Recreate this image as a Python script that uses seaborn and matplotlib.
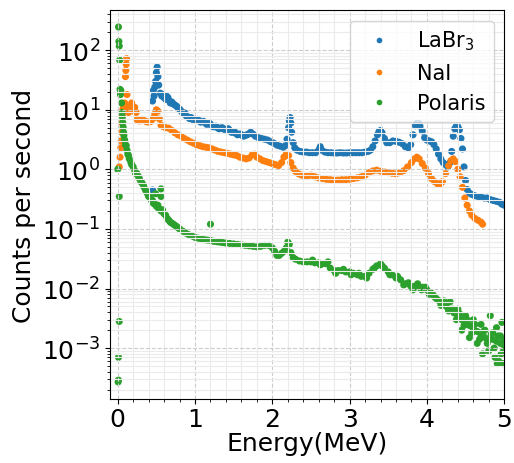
import numpy as np
import pandas as pd
import matplotlib
matplotlib.use("Agg")
import matplotlib.pyplot as plt
from matplotlib.ticker import MultipleLocator
import seaborn as sns

# Espectros (energia en MeV, cuentas por segundo)
labr_energy = [0.45, 0.46, 0.47, 0.48, 0.49, 0.50, 0.51, 0.52, 0.53, 0.55,
               0.57, 0.60, 0.63, 0.66, 0.70, 0.74, 0.78, 0.81, 0.85, 0.89,
               0.93, 0.97, 1.01, 1.05, 1.09, 1.13, 1.17, 1.21, 1.25, 1.29,
               1.33, 1.37, 1.41, 1.45, 1.49, 1.53, 1.57, 1.61, 1.65, 1.69,
               1.72, 1.75, 1.78, 1.82, 1.86, 1.90, 1.94, 1.98, 2.02, 2.06,
               2.10, 2.14, 2.17, 2.19, 2.21, 2.22, 2.23, 2.24, 2.25, 2.27,
               2.29, 2.32, 2.36, 2.40, 2.44, 2.48, 2.52, 2.56, 2.60, 2.62,
               2.64, 2.68, 2.72, 2.76, 2.80, 2.84, 2.88, 2.92, 2.96, 3.00,
               3.04, 3.08, 3.12, 3.16, 3.20, 3.24, 3.27, 3.30, 3.33, 3.36,
               3.38, 3.40, 3.42, 3.45, 3.48, 3.52, 3.56, 3.60, 3.64, 3.68,
               3.72, 3.76, 3.79, 3.82, 3.85, 3.87, 3.89, 3.91, 3.94, 3.97,
               4.00, 4.03, 4.06, 4.09, 4.12, 4.15, 4.18, 4.21, 4.24, 4.27,
               4.30, 4.32, 4.34, 4.36, 4.38, 4.40, 4.42, 4.44, 4.46, 4.48,
               4.50, 4.52, 4.55, 4.58, 4.62, 4.66, 4.70, 4.74, 4.78, 4.82,
               4.86, 4.90, 4.94, 4.97, 5.00, 0.45,
               0.58, 0.62, 0.65, 0.68, 0.72, 0.76, 0.80, 0.83, 0.87, 0.91,
               0.95, 0.99, 1.03, 1.07, 1.11, 1.15, 1.19, 1.23, 1.27, 1.31,
               1.35, 1.39, 1.43, 1.47, 1.51, 1.55, 1.59, 1.63, 1.67, 1.71]
labr_cps = [14, 21, 17, 24, 30, 42, 52, 36, 26, 19,
            17, 16, 17, 14.5, 13.5, 12, 10.8, 9.8, 8.6, 7.8,
            7.1, 6.9, 6.7, 6.6, 6.3, 6.1, 5.8, 5.5, 5.2, 5.0,
            4.9, 4.8, 4.7, 4.5, 4.2, 4.0, 3.9, 3.7, 3.7, 3.9,
            4.2, 3.9, 3.6, 3.4, 3.3, 3.2, 3.1, 2.9, 2.75, 2.55,
            2.45, 2.35, 2.5, 3.2, 5.0, 6.5, 7.4, 6.0, 4.2, 2.8,
            2.3, 2.1, 2.0, 1.95, 1.95, 1.9, 1.9, 1.9, 2.1, 2.4,
            2.1, 1.95, 1.9, 1.9, 1.88, 1.88, 1.9, 1.88, 1.88, 1.9,
            1.9, 1.9, 1.9, 1.9, 1.95, 2.0, 2.1, 2.4, 3.0, 3.8,
            4.3, 4.5, 4.1, 3.3, 2.8, 2.8, 3.0, 2.95, 2.85, 2.7,
            2.4, 2.3, 2.6, 3.8, 5.4, 6.0, 6.1, 5.3, 4.4, 3.4,
            3.1, 3.0, 2.9, 2.6, 2.2, 1.8, 1.5, 1.3, 1.2, 1.1,
            1.3, 2.0, 3.6, 4.8, 5.3, 5.2, 4.6, 3.3, 2.2, 1.1,
            0.65, 0.46, 0.40, 0.38, 0.36, 0.35, 0.34, 0.33, 0.33, 0.31,
            0.30, 0.29, 0.28, 0.26, 0.25, 0.45,
            18, 15, 16, 13, 12.5, 11.5, 10.2, 9.2, 8.8, 7.5,
            7.4, 6.6, 6.9, 6.2, 6.4, 5.7, 5.9, 5.2, 5.3, 4.8,
            5.0, 4.6, 4.8, 4.2, 4.3, 3.8, 3.9, 3.6, 3.8, 4.0]

nai_energy = [0.02, 0.03, 0.04, 0.045, 0.05, 0.055, 0.06, 0.065, 0.07, 0.08,
              0.09, 0.10, 0.105, 0.11, 0.115, 0.12, 0.13, 0.14, 0.16, 0.18,
              0.20, 0.22, 0.24, 0.25, 0.28, 0.31, 0.34, 0.37, 0.40, 0.43,
              0.46, 0.48, 0.50, 0.52, 0.54, 0.56, 0.59, 0.62, 0.66, 0.70,
              0.74, 0.78, 0.82, 0.86, 0.90, 0.94, 0.98, 1.02, 1.06, 1.10,
              1.14, 1.18, 1.22, 1.26, 1.30, 1.34, 1.38, 1.42, 1.46, 1.50,
              1.54, 1.58, 1.62, 1.66, 1.70, 1.74, 1.77, 1.80, 1.84, 1.88,
              1.92, 1.96, 2.00, 2.04, 2.08, 2.12, 2.15, 2.18, 2.21, 2.24,
              2.27, 2.30, 2.34, 2.38, 2.42, 2.46, 2.50, 2.55, 2.60, 2.65,
              2.70, 2.75, 2.80, 2.85, 2.90, 2.95, 3.00, 3.05, 3.10, 3.15,
              3.20, 3.25, 3.30, 3.35, 3.40, 3.45, 3.50, 3.55, 3.60, 3.65,
              3.70, 3.75, 3.80, 3.84, 3.87, 3.90, 3.94, 3.98, 4.02, 4.06,
              4.10, 4.14, 4.17, 4.20, 4.24, 4.28, 4.31, 4.34, 4.37, 4.40,
              4.43, 4.46, 4.49, 4.52, 4.55, 4.58, 4.62, 4.66, 4.70, 4.72]
nai_cps = [1.1, 1.6, 2.3, 3.0, 4.2, 6.0, 8.0, 10, 12, 9.5,
           13, 36, 46, 58, 72, 18, 11, 9, 10, 13,
           9.5, 11, 9, 6.8, 6.5, 6.9, 6.6, 6.3, 6.2, 6.4,
           7.2, 8.5, 10, 9.5, 7.0, 5.5, 5.2, 5.0, 4.9, 4.5,
           4.1, 3.8, 3.6, 3.3, 3.1, 2.9, 2.75, 2.6, 2.5, 2.4,
           2.35, 2.3, 2.2, 2.1, 2.0, 1.95, 1.9, 1.85, 1.8, 1.75,
           1.7, 1.6, 1.55, 1.5, 1.55, 1.75, 1.8, 1.6, 1.5, 1.4,
           1.35, 1.3, 1.25, 1.2, 1.15, 1.3, 1.6, 1.8, 1.7, 1.3,
           1.05, 0.92, 0.84, 0.8, 0.78, 0.78, 0.8, 0.75, 0.72, 0.7,
           0.68, 0.67, 0.66, 0.66, 0.67, 0.67, 0.68, 0.7, 0.72, 0.75,
           0.8, 0.88, 0.94, 0.97, 0.93, 0.9, 0.88, 0.86, 0.84, 0.88,
           0.95, 1.1, 1.3, 1.5, 1.6, 1.5, 1.25, 1.05, 0.85, 0.7,
           0.62, 0.57, 0.56, 0.62, 0.85, 1.15, 1.4, 1.5, 1.35, 1.0,
           0.75, 0.5, 0.33, 0.25, 0.2, 0.17, 0.15, 0.14, 0.13, 0.12]

polaris_energy = [0.0, 0.005, 0.01, 0.01, 0.01, 0.015, 0.02, 0.02, 0.025, 0.02,
                  0.03, 0.035, 0.04, 0.05, 0.055, 0.06, 0.065, 0.07, 0.075, 0.08,
                  0.09, 0.10, 0.12, 0.13, 0.15, 0.17, 0.20, 0.22, 0.25, 0.28,
                  0.31, 0.34, 0.37, 0.40, 0.43, 0.46, 0.50, 0.53, 0.56, 0.60,
                  0.64, 0.68, 0.72, 0.76, 0.80, 0.84, 0.88, 0.92, 0.96, 1.00,
                  1.04, 1.08, 1.12, 1.16, 1.20, 1.24, 1.28, 1.32, 1.36, 1.40,
                  1.45, 1.50, 1.55, 1.60, 1.65, 1.70, 1.75, 1.80, 1.85, 1.90,
                  1.95, 2.00, 2.03, 2.06, 2.09, 2.12, 2.15, 2.18, 2.20, 2.22,
                  2.24, 2.27, 2.30, 2.35, 2.40, 2.45, 2.50, 2.55, 2.60, 2.65,
                  2.70, 2.75, 2.80, 2.85, 2.90, 2.95, 3.00, 3.05, 3.10, 3.15,
                  3.20, 3.25, 3.30, 3.35, 3.40, 3.45, 3.50, 3.55, 3.60, 3.66,
                  3.72, 3.79, 3.85, 3.90, 3.95, 4.00, 4.05, 4.10, 4.15, 4.20,
                  4.25, 4.30, 4.35, 4.40, 4.45, 4.50, 4.55, 4.60, 4.65, 4.70,
                  4.75, 4.80, 4.85, 4.90, 4.95, 5.00, 1.20, 0.49, 0.56, 0.56,
                  4.30, 4.40, 4.45, 4.50, 4.55, 4.60, 4.65, 4.70, 4.72, 4.75,
                  4.80, 4.82, 4.85, 4.88, 4.90, 4.93, 4.95, 4.97, 4.98, 4.99,
                  0.11, 0.14, 0.18, 0.23, 0.27, 0.30, 0.33, 0.36, 0.39, 0.42,
                  0.45, 0.48, 0.52, 0.55, 0.58, 0.62, 0.66, 0.70, 0.74, 0.78,
                  2.52, 2.62, 2.72, 2.82, 2.92, 3.02, 3.12, 3.22, 3.32, 3.42,
                  3.52, 3.62, 3.70, 3.76, 3.82, 3.88, 3.93, 3.98, 4.03, 4.08,
                  4.12, 4.18, 4.22, 4.28, 4.33, 4.38, 4.42, 4.48, 4.52, 4.58,
                  4.62, 4.68, 4.73, 4.78, 4.83, 4.87, 4.92, 4.96, 4.99, 4.91]
polaris_cps = [1.0, 2.7e-4, 2.9e-4, 7e-4, 245, 140, 117, 0.0028, 68, 0.35,
               22, 18, 21, 13, 9, 7.5, 6.1, 5.1, 4.2, 3.7,
               3.1, 2.6, 2.1, 1.8, 1.5, 1.3, 1.1, 0.95, 0.85, 0.7,
               0.6, 0.5, 0.42, 0.35, 0.31, 0.27, 0.24, 0.22, 0.2, 0.18,
               0.15, 0.13, 0.12, 0.11, 0.1, 0.092, 0.085, 0.08, 0.076, 0.072,
               0.07, 0.068, 0.066, 0.065, 0.064, 0.062, 0.061, 0.06, 0.059, 0.058,
               0.057, 0.056, 0.055, 0.054, 0.053, 0.052, 0.051, 0.05, 0.051, 0.053,
               0.053, 0.048, 0.042, 0.036, 0.036, 0.039, 0.042, 0.048, 0.06, 0.055,
               0.04, 0.033, 0.031, 0.029, 0.028, 0.028, 0.028, 0.027, 0.027, 0.026,
               0.026, 0.022, 0.02, 0.02, 0.02, 0.019, 0.019, 0.018, 0.017, 0.016,
               0.016, 0.018, 0.021, 0.024, 0.026, 0.022, 0.019, 0.017, 0.015, 0.014,
               0.012, 0.011, 0.011, 0.0105, 0.0105, 0.0095, 0.0085, 0.0072, 0.0063, 0.0057,
               0.005, 0.0044, 0.0039, 0.0034, 0.003, 0.0027, 0.0024, 0.0021, 0.0019, 0.0016,
               0.0015, 0.0014, 0.0014, 0.0013, 0.0012, 0.0011, 0.12, 0.39, 0.47, 0.35,
               0.006, 0.0045, 0.002, 0.0035, 0.0015, 0.003, 0.0012, 0.0025, 0.0008, 0.002,
               0.0009, 0.0035, 0.0018, 0.0007, 0.0022, 0.0006, 0.0016, 0.0027, 0.00055, 0.0009,
               2.5, 1.7, 1.2, 0.85, 0.75, 0.62, 0.55, 0.45, 0.38, 0.34,
               0.3, 0.26, 0.25, 0.21, 0.21, 0.17, 0.14, 0.125, 0.115, 0.105,
               0.03, 0.025, 0.028, 0.018, 0.021, 0.017, 0.018, 0.015, 0.022, 0.024,
               0.017, 0.016, 0.0115, 0.0125, 0.0095, 0.012, 0.0095, 0.0105, 0.008, 0.0078,
               0.0068, 0.0052, 0.0062, 0.0042, 0.0045, 0.003, 0.0038, 0.0024, 0.003, 0.0018,
               0.0025, 0.0014, 0.0019, 0.0012, 0.0017, 0.001, 0.0016, 0.0008, 0.0014, 0.00055]

detectores = ['LaBr$_3$', 'NaI', 'Polaris']
colores = ['tab:blue', 'tab:orange', 'tab:green']

df = pd.concat([
    pd.DataFrame({'energia': labr_energy, 'cps': labr_cps, 'detector': detectores[0]}),
    pd.DataFrame({'energia': nai_energy, 'cps': nai_cps, 'detector': detectores[1]}),
    pd.DataFrame({'energia': polaris_energy, 'cps': polaris_cps, 'detector': detectores[2]}),
], ignore_index=True)

fig, ax = plt.subplots(figsize=(5.14, 4.64), dpi=100)
fig.subplots_adjust(left=0.214, right=0.981, top=0.976, bottom=0.138)

sns.scatterplot(data=df, x='energia', y='cps', hue='detector', hue_order=detectores,
                palette=colores, s=26, linewidth=0, ax=ax)

ax.set_yscale('log')
ax.set_xlim(-0.1, 5)
ax.set_ylim(1.4e-4, 470)
ax.xaxis.set_major_locator(MultipleLocator(1))
ax.xaxis.set_minor_locator(MultipleLocator(0.2))
ax.grid(which='major', linestyle='--', color='0.8', linewidth=0.8)
ax.grid(which='minor', linestyle='-', color='0.92', linewidth=0.8)

ax.set_xlabel('Energy(MeV)', fontsize=18, labelpad=0)
ax.set_ylabel('Counts per second', fontsize=18)
ax.tick_params(labelsize=18)
ax.tick_params(axis='x', pad=2)

ax.legend(loc='upper right', fontsize=15, markerscale=0.8)

plt.savefig('out.png', dpi=100)
